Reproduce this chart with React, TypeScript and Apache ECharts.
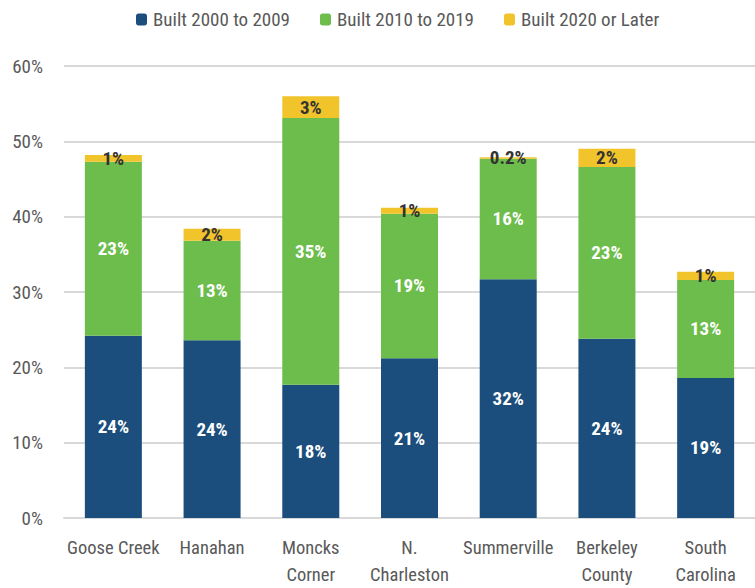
import React, { useEffect, useRef } from "react";
import * as echarts from "echarts";

const categories = [
  "Goose Creek",
  "Hanahan",
  "Moncks\nCorner",
  "N.\nCharleston",
  "Summerville",
  "Berkeley\nCounty",
  "South\nCarolina",
];
const built2000to2009 = [24.2, 23.6, 17.7, 21.2, 31.7, 23.8, 18.6];
const built2010to2019 = [23.1, 13.2, 35.4, 19.2, 16.0, 22.8, 13.0];
const built2020orLater = [0.9, 1.6, 2.9, 0.8, 0.2, 2.4, 1.1];
const yTicks = [0, 10, 20, 30, 40, 50, 60];

const FONT = "'Roboto Condensed', 'Roboto', sans-serif";

const fmt = (v: number) => (v < 0.5 ? v.toFixed(1) + "%" : Math.round(v) + "%");

export default function App() {
  const ref = useRef<HTMLDivElement>(null);
  useEffect(() => {
    if (!ref.current) return;
    const chart = echarts.init(ref.current, null, { renderer: "svg" });
    const mk = (name: string, data: number[], color: string, labelColor: string) => ({
      name,
      type: "bar",
      stack: "total",
      data,
      barWidth: 57,
      itemStyle: { color },
      label: {
        show: true,
        position: "inside",
        color: labelColor,
        fontFamily: FONT,
        fontWeight: "bold",
        fontSize: 19,
        formatter: (p: any) => fmt(p.value),
      },
    });
    chart.setOption({
      animation: false,
      textStyle: { fontFamily: FONT },
      legend: {
        top: 5,
        left: 131,
        itemWidth: 11,
        itemHeight: 12,
        itemGap: 30,
        textStyle: { fontFamily: FONT, fontSize: 19, color: "#595959", padding: [0, 0, 0, 1] },
        data: ["Built 2000 to 2009", "Built 2010 to 2019", "Built 2020 or Later"],
      },
      grid: { left: 64, right: -7, top: 66, bottom: 70, containLabel: false },
      xAxis: {
        type: "category",
        data: categories,
        axisTick: { show: false },
        axisLine: { lineStyle: { color: "#d9d9d9", width: 2 } },
        axisLabel: {
          interval: 0,
          margin: 16,
          color: "#595959",
          fontFamily: FONT,
          fontSize: 18.5,
          lineHeight: 27,
        },
      },
      yAxis: {
        type: "value",
        min: yTicks[0],
        max: yTicks[yTicks.length - 1],
        interval: 10,
        axisLine: { show: false },
        axisTick: { show: false },
        splitLine: { lineStyle: { color: "#d9d9d9", width: 2 } },
        axisLabel: {
          margin: 21,
          color: "#595959",
          fontFamily: FONT,
          fontSize: 19,
          formatter: "{value}%",
        },
      },
      series: [
        mk("Built 2000 to 2009", built2000to2009, "#1b4e7c", "#ffffff"),
        mk("Built 2010 to 2019", built2010to2019, "#6cbd4b", "#ffffff"),
        mk("Built 2020 or Later", built2020orLater, "#f2c42c", "#333333"),
      ],
    });
    return () => chart.dispose();
  }, []);
  return <div ref={ref} style={{ width: 755, height: 588, position: "absolute", left: 0, top: 0 }} />;
}
